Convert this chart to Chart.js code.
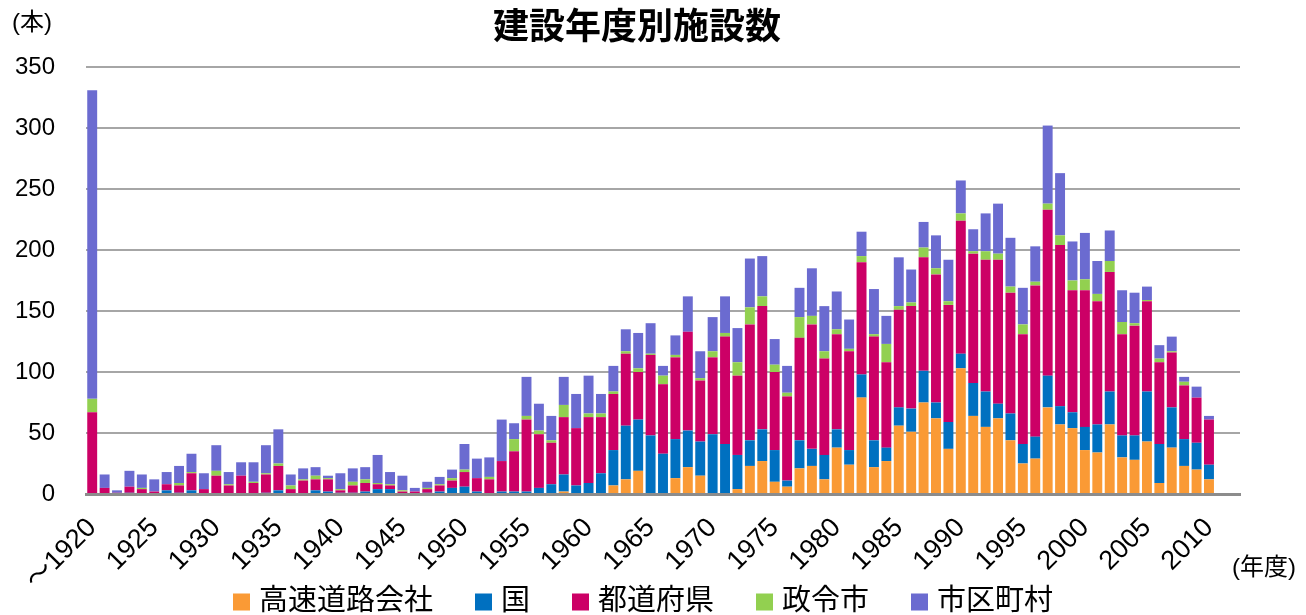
<!DOCTYPE html>
<html>
<head>
<meta charset="utf-8">
<script src="https://cdn.jsdelivr.net/npm/chart.js"></script>
<style>
  body { margin: 0; background: #fff; }
</style>
</head>
<body>
<canvas id="facilityChart" width="1306" height="615"></canvas>
<script>
const years = ['～1920','1921','1922','1923','1924','1925','1926','1927','1928','1929',
  '1930','1931','1932','1933','1934','1935','1936','1937','1938','1939',
  '1940','1941','1942','1943','1944','1945','1946','1947','1948','1949',
  '1950','1951','1952','1953','1954','1955','1956','1957','1958','1959',
  '1960','1961','1962','1963','1964','1965','1966','1967','1968','1969',
  '1970','1971','1972','1973','1974','1975','1976','1977','1978','1979',
  '1980','1981','1982','1983','1984','1985','1986','1987','1988','1989',
  '1990','1991','1992','1993','1994','1995','1996','1997','1998','1999',
  '2000','2001','2002','2003','2004','2005','2006','2007','2008','2009',
  '2010','2011','2012'];

// 高速道路会社
const expressway = [0,0,0,0,0,0,0,0,0,0, 0,0,0,0,0,0,0,0,0,0, 0,0,0,0,0,0,0,0,0,0,
  0,0,0,0,0,0,0,0,2,0, 0,0,7,12,19,0,0,13,22,15, 0,0,4,23,27,10,6,21,23,12,
  38,24,79,22,27,56,51,75,62,37, 103,64,55,62,44,25,29,71,57,54, 36,34,57,30,28,43,9,38,23,20,
  12,null,null];
// 国
const national = [0,0,0,1,0,0,3,1,3,0, 0,0,0,0,1,3,0,0,3,2, 1,1,2,4,4,0,0,1,2,5,
  6,2,0,2,2,2,5,8,14,7, 9,17,29,44,42,48,33,32,30,28, 49,41,28,21,26,26,5,23,14,20,
  15,12,19,22,11,15,19,26,13,22, 12,27,29,12,22,16,18,26,15,13, 19,23,27,18,20,41,32,33,22,22,
  12,null,null];
// 都道府県
const prefecture = [67,5,1,5,4,2,5,6,14,4, 15,7,15,9,15,20,4,11,9,10, 2,6,7,4,3,2,2,3,5,6,
  12,11,12,25,33,59,44,34,47,47, 54,46,46,59,39,66,57,67,81,50, 63,88,65,95,101,64,69,84,102,79,
  78,81,92,85,70,80,84,93,105,96, 109,106,108,118,99,90,124,136,132,100, 112,101,98,83,90,74,67,45,44,37,
  37,null,null];
// 政令市
const designated = [11,0,0,0,1,0,0,2,1,0, 4,1,0,1,1,2,3,1,3,1, 1,3,3,1,1,1,0,1,1,2,
  2,0,2,0,10,3,3,2,10,0, 3,3,2,2,3,1,7,2,0,2, 5,3,11,14,8,6,3,17,7,6,
  4,2,5,2,15,3,3,8,5,3, 6,2,7,5,5,8,3,5,8,8, 9,6,9,10,2,1,3,1,3,0,
  0,null,null];
// 市区町村
const municipal = [253,11,2,13,11,10,10,14,15,13, 21,10,11,16,23,28,9,9,7,2, 13,11,10,23,10,12,3,5,6,7,
  21,16,16,34,13,32,22,20,23,28, 31,16,21,18,29,25,8,16,29,22, 28,30,28,40,33,21,22,24,39,37,
  31,24,20,37,23,40,27,21,27,34, 27,18,31,41,40,30,29,64,51,32, 38,27,25,26,25,11,11,12,4,9,
  3,null,null];

const seriesNames = ['高速道路会社', '国', '都道府県', '政令市', '市区町村'];
const seriesColors = ['#fa9a35', '#0070c0', '#cc0066', '#92d050', '#6b6bd0'];
const seriesData = [expressway, national, prefecture, designated, municipal];

const FONT = "'Liberation Sans', 'Noto Sans CJK JP', sans-serif";

const textPlugin = {
  id: 'texts',
  afterDraw(chart) {
    const ctx = chart.ctx;
    ctx.save();
    ctx.fillStyle = '#000';
    ctx.textBaseline = 'middle';
    ctx.font = "bold 36px 'Noto Sans CJK JP', sans-serif";
    ctx.textAlign = 'center';
    ctx.fillText('建設年度別施設数', 637, 25);
    ctx.font = '24px ' + FONT;
    ctx.textAlign = 'left';
    ctx.fillText('(本)', 12, 23);
    ctx.fillText('(年度)', 1232, 568);

    // legend
    ctx.font = '29px ' + FONT;
    const box = 17, gap = 9, spacing = 42;
    const widths = seriesNames.map(n => box + gap + ctx.measureText(n).width);
    const total = widths.reduce((a, b) => a + b, 0) + spacing * (widths.length - 1);
    let x = 643 - total / 2;
    const y = 602;
    chart.data.datasets.forEach((ds, i) => {
      ctx.fillStyle = ds.backgroundColor;
      ctx.fillRect(x, y - box / 2, box, box);
      ctx.fillStyle = '#000';
      ctx.fillText(ds.label, x + box + gap, y);
      x += widths[i] + spacing;
    });
    ctx.restore();
  }
};

new Chart(document.getElementById('facilityChart'), {
  type: 'bar',
  data: {
    labels: years,
    datasets: seriesNames.map((name, i) => ({
      label: name,
      data: seriesData[i],
      backgroundColor: seriesColors[i],
      borderWidth: 0,
      barPercentage: 0.8,
      categoryPercentage: 1.0
    }))
  },
  options: {
    responsive: false,
    animation: false,
    layout: { padding: { left: 0, right: 66, top: 67, bottom: 0 } },
    plugins: {
      legend: { display: false },
      title: { display: false },
      tooltip: { enabled: false }
    },
    scales: {
      x: {
        stacked: true,
        grid: { display: false, drawTicks: false },
        border: { color: '#8c8c8c', width: 3 },
        ticks: {
          autoSkip: false,
          maxRotation: 45,
          minRotation: 45,
          padding: 18,
          color: '#000',
          font: { size: 27, family: FONT },
          callback: function (v, i) { return i % 5 === 0 ? this.getLabelForValue(v) : ''; }
        },
        afterFit(scale) { scale.height = 121; }
      },
      y: {
        stacked: true,
        min: 0,
        max: 350,
        grid: { color: '#a6a6a6', lineWidth: 2, drawTicks: false },
        border: { display: false },
        ticks: {
          stepSize: 50,
          padding: 31,
          color: '#000',
          font: { size: 24, family: FONT }
        },
        afterFit(scale) { scale.width = 86; }
      }
    }
  },
  plugins: [textPlugin]
});
</script>
</body>
</html>
